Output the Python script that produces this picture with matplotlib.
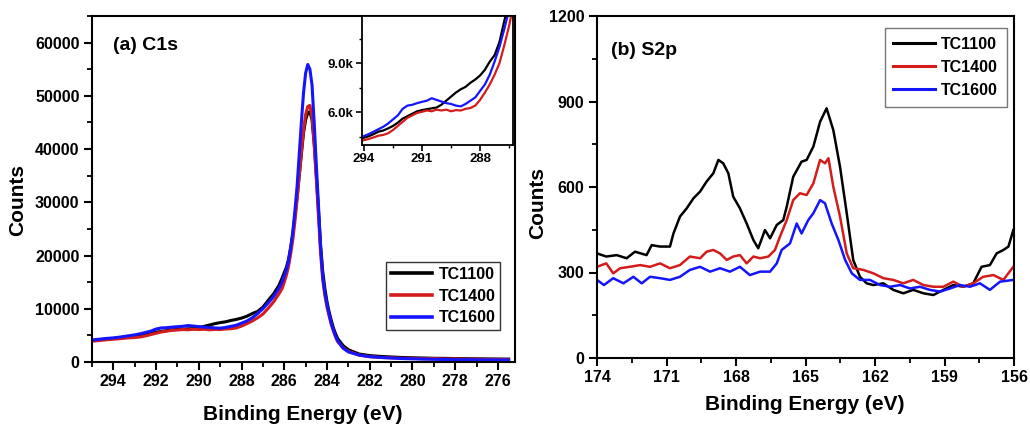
import matplotlib
matplotlib.use("Agg")
import matplotlib.pyplot as plt
from matplotlib.ticker import MultipleLocator, FuncFormatter

plt.rcParams['font.family'] = ['Liberation Sans', 'DejaVu Sans']
plt.rcParams['font.weight'] = 'bold'

# ---------------- C1s data ----------------
c1s_x = [295.00, 294.75, 294.50, 294.25, 294.00, 293.75, 293.50, 293.25, 293.00, 292.75,
         292.50, 292.25, 292.00, 291.75, 291.50, 291.25, 291.00, 290.75, 290.50, 290.25,
         290.00, 289.75, 289.50, 289.25, 289.00, 288.75, 288.50, 288.25, 288.00, 287.75,
         287.50, 287.25, 287.00, 286.75, 286.50, 286.25,
         286.1, 286.0, 285.9, 285.8, 285.7, 285.6, 285.5, 285.4, 285.3, 285.2,
         285.1, 285.0, 284.9, 284.8, 284.7, 284.6, 284.5, 284.4, 284.3, 284.2,
         284.1, 284.0, 283.9, 283.8, 283.7, 283.6, 283.5,
         283.25, 283.0, 282.5, 282.0, 281.5, 281.0, 280.5, 280.0, 279.5, 279.0,
         278.5, 278.0, 277.5, 277.0, 276.5, 276.0, 275.5]

c1s_tc1100 = [4050, 4150, 4250, 4320, 4430, 4520, 4650, 4800, 4870, 5000,
              5150, 5350, 5600, 5750, 5900, 6050, 6120, 6180, 6230, 6280,
              6450, 6700, 6950, 7200, 7400, 7550, 7800, 8000, 8250, 8600,
              9100, 9500, 10300, 11600, 12800, 14400,
              15800, 16800, 17800, 19300, 21500, 24000, 27500, 31000, 35000, 39000,
              43000, 45500, 46800, 47000, 45500, 41000, 35000, 28500, 22000, 17000,
              13800, 11300, 9400, 7800, 6400, 5300, 4400,
              3100, 2300, 1500, 1200, 1050, 950, 850, 800, 750, 700,
              680, 650, 620, 600, 580, 560, 550]

c1s_tc1400 = [3900, 4000, 4100, 4200, 4280, 4350, 4450, 4550, 4600, 4700,
              4900, 5150, 5400, 5650, 5800, 5950, 6020, 6100, 6050, 6150,
              6100, 6150, 6050, 6120, 6100, 6200, 6250, 6400, 6750, 7200,
              7700, 8300, 9000, 10100, 11300, 12800,
              13800, 15000, 16300, 18000, 20300, 23000, 26500, 30500, 35000, 39500,
              43500, 46500, 48000, 48200, 46000, 41000, 34500, 27500, 20500, 15500,
              12500, 10300, 8600, 7000, 5800, 4700, 3800,
              2700, 2000, 1300, 1000, 850, 800, 700, 700, 600, 650,
              550, 600, 500, 550, 450, 500, 450]

c1s_tc1600 = [4100, 4250, 4350, 4450, 4530, 4650, 4800, 4950, 5100, 5300,
              5550, 5800, 6200, 6400, 6450, 6550, 6630, 6700, 6850, 6750,
              6650, 6550, 6500, 6400, 6350, 6500, 6700, 6900, 7300, 7700,
              8300, 9100, 10000, 11100, 12300, 13800,
              15000, 16200, 17300, 19000, 21500, 24500, 28500, 33000, 39000, 45000,
              50500, 54300, 55900, 55000, 52000, 45000, 37000, 29500, 21500, 16000,
              13000, 10800, 9000, 7300, 6000, 4900, 4000,
              2600, 1900, 1300, 1000, 850, 750, 650, 600, 550, 500,
              480, 450, 430, 420, 400, 400, 380]

# ---------------- S2p data ----------------
s2p_x_1100 = [174.0, 173.6, 173.15, 172.72, 172.36, 171.86, 171.64, 171.28, 170.85, 170.7,
              170.42, 170.13, 169.84, 169.55, 169.27, 168.98, 168.76, 168.55, 168.33, 168.12,
              167.83, 167.54, 167.25, 167.04, 166.75, 166.53, 166.24, 165.96, 165.81, 165.53,
              165.17, 164.95, 164.66, 164.37, 164.09, 163.80, 163.51, 163.22, 162.94, 162.65,
              162.36, 162.07, 161.64, 161.21, 160.78, 160.35, 159.91, 159.48, 159.05, 158.62,
              158.19, 157.76, 157.40, 157.04, 156.75, 156.46, 156.24, 156.03]
s2p_tc1100 = [367, 356, 361, 350, 373, 361, 396, 391, 391, 437,
              496, 525, 560, 584, 619, 648, 695, 683, 648, 566,
              525, 472, 414, 385, 449, 420, 467, 484, 531, 636,
              689, 695, 742, 829, 876, 800, 671, 508, 344, 285,
              262, 256, 262, 239, 227, 239, 227, 221, 239, 256,
              250, 262, 320, 326, 367, 379, 391, 449]

s2p_x_1400 = [174.0, 173.6, 173.3, 173.0, 172.58, 172.14, 171.71, 171.28, 170.85, 170.42,
              169.99, 169.55, 169.27, 168.98, 168.69, 168.4, 168.12, 167.83, 167.54, 167.25,
              166.96, 166.60, 166.32, 166.1, 165.81, 165.53, 165.24, 164.95, 164.66, 164.37,
              164.16, 164.01, 163.80, 163.51, 163.22, 162.94, 162.5, 162.07, 161.64, 161.21,
              160.78, 160.35, 159.91, 159.48, 159.05, 158.62, 158.19, 157.76, 157.33, 156.89,
              156.46, 156.03]
s2p_tc1400 = [320, 332, 297, 315, 320, 326, 320, 332, 315, 326,
              356, 350, 373, 379, 367, 344, 356, 361, 332, 356,
              350, 356, 379, 426, 484, 554, 578, 572, 613, 695,
              683, 701, 601, 496, 367, 315, 309, 297, 280, 274,
              262, 274, 256, 250, 250, 268, 250, 262, 285, 291,
              274, 320]

s2p_x_1600 = [174.0, 173.7, 173.3, 172.86, 172.43, 172.07, 171.71, 171.28, 170.85, 170.42,
              169.99, 169.55, 169.12, 168.69, 168.26, 167.83, 167.40, 166.96, 166.53, 166.24,
              166.03, 165.67, 165.38, 165.17, 164.88, 164.66, 164.37, 164.16, 163.87, 163.58,
              163.29, 163.0, 162.65, 162.22, 161.78, 161.35, 160.92, 160.49, 160.06, 159.63,
              159.19, 158.76, 158.33, 157.90, 157.47, 157.04, 156.60, 156.03]
s2p_tc1600 = [274, 256, 280, 262, 285, 262, 285, 280, 274, 285,
              309, 320, 303, 315, 303, 320, 291, 303, 303, 332,
              379, 402, 472, 437, 484, 508, 554, 543, 472, 414,
              344, 297, 274, 274, 256, 250, 256, 244, 250, 239,
              233, 244, 256, 250, 262, 239, 268, 274]

labels = ['TC1100', 'TC1400', 'TC1600']
colors = ['#000000', '#d41c1c', '#1414ff']

# ---------------- figure ----------------
fig = plt.figure(figsize=(10.30, 4.28), dpi=100)

W, H = 1030.0, 428.0
def rect(l, r, t, b):
    return [l / W, 1 - b / H, (r - l) / W, (b - t) / H]

def style_axes(ax, fs=11.5, lw=1.5):
    for s in ax.spines.values():
        s.set_linewidth(lw)
        s.set_color('black')
    ax.tick_params(which='major', direction='out', length=6, width=1.5,
                   labelsize=fs, top=False, right=False, pad=3)
    ax.tick_params(which='minor', direction='out', length=3.5, width=1.3,
                   top=False, right=False)
    for t in ax.get_xticklabels() + ax.get_yticklabels():
        t.set_fontweight('bold')

# ---- left panel ----
ax1 = fig.add_axes(rect(92, 515, 16, 362))
c1s_series = [c1s_tc1100, c1s_tc1400, c1s_tc1600]
for y, lab, col in zip(c1s_series, labels, colors):
    ax1.plot(c1s_x, y, color=col, lw=2.2, label=lab)
ax1.set_xlim(295, 275.2)
ax1.set_ylim(0, 65000)
ax1.xaxis.set_major_locator(MultipleLocator(2))
ax1.xaxis.set_minor_locator(MultipleLocator(1))
ax1.yaxis.set_major_locator(MultipleLocator(10000))
ax1.yaxis.set_minor_locator(MultipleLocator(5000))
style_axes(ax1, fs=11.5)
ax1.text(0.05, 0.916, '(a) C1s', transform=ax1.transAxes, fontsize=14,
         fontweight='bold', va='center', ha='left')
leg1 = ax1.legend(loc='lower right', bbox_to_anchor=(0.965, 0.092), frameon=True,
                  fancybox=False, edgecolor='black', fontsize=11.5, handlelength=2.6,
                  borderpad=0.3, labelspacing=0.42, handletextpad=0.4, borderaxespad=0)
leg1.get_frame().set_linewidth(1.0)
for t in leg1.get_texts():
    t.set_fontweight('bold')
for l in leg1.get_lines():
    l.set_linewidth(2.6)

# ---- inset ----
axi = fig.add_axes(rect(362, 513, 16, 145))
for y, lab, col in zip(c1s_series, labels, colors):
    axi.plot(c1s_x, y, color=col, lw=1.6)
axi.set_xlim(294.1, 286.3)
axi.set_ylim(3980, 11900)
axi.xaxis.set_major_locator(MultipleLocator(3))
axi.xaxis.set_minor_locator(MultipleLocator(1.5))
axi.yaxis.set_major_locator(MultipleLocator(3000))
axi.yaxis.set_minor_locator(MultipleLocator(1500))
axi.yaxis.set_major_formatter(FuncFormatter(lambda v, p: f"{v/1000:.1f}k"))
axi.set_facecolor('white')
for s in axi.spines.values():
    s.set_linewidth(1.3)
axi.tick_params(which='major', direction='out', length=4, width=1.2, labelsize=9.5, pad=2)
axi.tick_params(which='minor', direction='out', length=2.5, width=1.0)
for t in axi.get_xticklabels() + axi.get_yticklabels():
    t.set_fontweight('bold')

# ---- right panel ----
ax2 = fig.add_axes(rect(597, 1014, 16, 358))
s2p_xs = [s2p_x_1100, s2p_x_1400, s2p_x_1600]
s2p_series = [s2p_tc1100, s2p_tc1400, s2p_tc1600]
for x, y, lab, col in zip(s2p_xs, s2p_series, labels, colors):
    ax2.plot(x, y, color=col, lw=1.8, label=lab)
ax2.set_xlim(174, 156)
ax2.set_ylim(0, 1200)
ax2.xaxis.set_major_locator(MultipleLocator(3))
ax2.xaxis.set_minor_locator(MultipleLocator(1.5))
ax2.yaxis.set_major_locator(MultipleLocator(300))
ax2.yaxis.set_minor_locator(MultipleLocator(150))
style_axes(ax2, fs=11.5)
ax2.text(0.034, 0.90, '(b) S2p', transform=ax2.transAxes, fontsize=14,
         fontweight='bold', va='center', ha='left')
leg2 = ax2.legend(loc='upper right', bbox_to_anchor=(0.983, 0.965), frameon=True,
                  fancybox=False, edgecolor='#555555', fontsize=11.5, handlelength=2.6,
                  borderpad=0.55, labelspacing=0.5, handletextpad=0.4, borderaxespad=0)
leg2.get_frame().set_linewidth(1.0)
for t in leg2.get_texts():
    t.set_fontweight('bold')
for l in leg2.get_lines():
    l.set_linewidth(2.2)

# ---- axis labels ----
fig.text(303 / W, 1 - 415 / H, 'Binding Energy (eV)', ha='center', va='center',
         fontsize=15, fontweight='bold')
fig.text(805 / W, 1 - 404 / H, 'Binding Energy (eV)', ha='center', va='center',
         fontsize=15, fontweight='bold')
fig.text(18 / W, 1 - 200 / H, 'Counts', ha='center', va='center', rotation=90,
         fontsize=15, fontweight='bold')
fig.text(538 / W, 1 - 203 / H, 'Counts', ha='center', va='center', rotation=90,
         fontsize=15, fontweight='bold')

fig.savefig('out.png', dpi=100)
